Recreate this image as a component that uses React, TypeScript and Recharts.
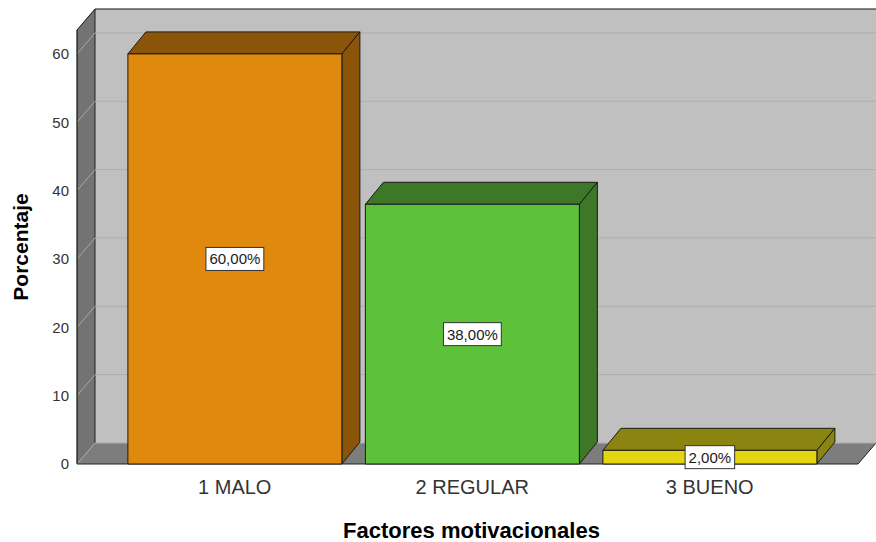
import React from 'react';
import { BarChart, Bar, XAxis, YAxis, ReferenceArea, ReferenceLine, LabelList, Label } from 'recharts';

const categories = ['1 MALO', '2 REGULAR', '3 BUENO'];
const percentages = [60, 38, 2];
const valueLabels = ['60,00%', '38,00%', '2,00%'];
const frontColors = ['#E0890F', '#5DC23A', '#E4D513'];
const darkColors = ['#8A5509', '#3C7827', '#8C8410'];
const yTicks = [0, 10, 20, 30, 40, 50, 60];

const data = categories.map((name, i) => ({ name, value: percentages[i], label: valueLabels[i], idx: i }));

const FONT = '"Liberation Sans", Arial, sans-serif';
const WALL_DX = 18;
const WALL_DY = 21;
const BAR_DX = 18;
const BAR_DY = 22;

const Walls = (p: any) => {
  const { x, y, width: w, height: h } = p;
  const D = WALL_DX, E = WALL_DY;
  return (
    <g>
      <rect x={x + D} y={y - E} width={w} height={h} fill="#C0C0C0" />
      <polygon points={`${x},${y} ${x + D},${y - E} ${x + D},${y + h - E} ${x},${y + h}`} fill="#737373" />
      <polygon points={`${x},${y + h} ${x + D},${y + h - E} ${x + w + D},${y + h - E} ${x + w},${y + h}`} fill="#7D7D7D" />
      <line x1={x + D} y1={y - E} x2={x + w + D} y2={y - E} stroke="#111" strokeWidth={1.2} />
      <line x1={x + D} y1={y - E} x2={x + D} y2={y + h - E} stroke="#222" strokeWidth={1} />
      <line x1={x} y1={y} x2={x + D} y2={y - E} stroke="#111" strokeWidth={1} />
      <line x1={x} y1={y + h} x2={x + w} y2={y + h} stroke="#222" strokeWidth={1.2} />
      <line x1={x + w} y1={y + h} x2={x + w + D} y2={y + h - E} stroke="#222" strokeWidth={1} />
    </g>
  );
};

const GridLine = (p: any) => {
  const { x1, y1, x2 } = p;
  const D = WALL_DX, E = WALL_DY;
  return (
    <g>
      <line x1={x1} y1={y1} x2={x1 + D} y2={y1 - E} stroke="#A8A8A8" strokeWidth={1} />
      <line x1={x1 + D} y1={y1 - E} x2={x2 + D} y2={y1 - E} stroke="#ADADAD" strokeWidth={1} />
    </g>
  );
};

const Bar3D = (p: any) => {
  const { x, y, width, height, index } = p;
  const D = BAR_DX, E = BAR_DY;
  const front = frontColors[index];
  const dark = darkColors[index];
  return (
    <g stroke="#1A1A1A" strokeWidth={1} strokeLinejoin="round">
      <polygon points={`${x},${y} ${x + D},${y - E} ${x + width + D},${y - E} ${x + width},${y}`} fill={dark} />
      <polygon points={`${x + width},${y} ${x + width + D},${y - E} ${x + width + D},${y + height - E} ${x + width},${y + height}`} fill={dark} />
      <rect x={x} y={y} width={width} height={height} fill={front} />
    </g>
  );
};

const charW = (c: string) => (c === ',' ? 0.278 : c === '%' ? 0.889 : 0.556);

const ValueLabel = (p: any) => {
  const { x, y, width, height, value } = p;
  const fs = 15;
  const tw = String(value).split('').reduce((s, c) => s + charW(c) * fs, 0);
  const bw = tw + 7;
  const bh = 23;
  const cx = x + width / 2;
  const cy = y + height / 2;
  return (
    <g>
      <rect x={cx - bw / 2} y={cy - bh / 2} width={bw} height={bh} fill="#FFFFFF" stroke="#333" strokeWidth={1} />
      <text x={cx} y={cy + 5.5} textAnchor="middle" fontSize={fs} fontFamily={FONT} fill="#1A1A1A">{value}</text>
    </g>
  );
};

const XTick = (p: any) => {
  const { x, y, payload } = p;
  return (
    <text x={x} y={y + 22} textAnchor="middle" fontSize={20} fontFamily={FONT} fill="#333">{payload.value}</text>
  );
};

export default function App() {
  return (
    <div style={{ position: 'absolute', left: 0, top: 0, background: '#fff' }}>
      <BarChart
        width={876}
        height={542}
        data={data}
        margin={{ top: 30, right: 18, bottom: 0, left: 0 }}
        barCategoryGap="5%"
        style={{ fontFamily: FONT }}
      >
        <XAxis xAxisId="wall" type="number" domain={[0, 1]} hide />
        <ReferenceArea xAxisId="wall" y1={0} y2={63.5} ifOverflow="visible" shape={Walls} zIndex={-300} />
        {yTicks.map((t) => (
          <ReferenceLine key={t} xAxisId="wall" y={t} ifOverflow="visible" shape={GridLine} zIndex={-250} />
        ))}
        <XAxis
          dataKey="name"
          height={78}
          padding={{ left: 39, right: 29.5 }}
          axisLine={false}
          tickLine={false}
          tick={<XTick />}
        >
          <Label
            content={(lp: any) => {
              const vb = lp.viewBox || {};
              return (
                <text x={vb.x + vb.width / 2 + 4} y={538} textAnchor="middle" fontSize={22} fontWeight="bold" fontFamily={FONT} fill="#000">
                  Factores motivacionales
                </text>
              );
            }}
          />
        </XAxis>
        <YAxis
          width={77}
          domain={[0, 63.5]}
          ticks={yTicks}
          axisLine={{ stroke: '#111', strokeWidth: 1.2 }}
          tickLine={false}
          tick={{ fontSize: 15, fill: '#333', fontFamily: FONT }}
        >
          <Label
            content={(lp: any) => {
              const vb = lp.viewBox || {};
              const cy = vb.y + vb.height / 2;
              return (
                <text x={28} y={cy} transform={`rotate(-90, 28, ${cy})`} textAnchor="middle" fontSize={21} fontWeight="bold" fontFamily={FONT} fill="#000">
                  Porcentaje
                </text>
              );
            }}
          />
        </YAxis>
        <Bar dataKey="value" isAnimationActive={false} shape={<Bar3D />}>
          <LabelList dataKey="label" content={<ValueLabel />} />
        </Bar>
      </BarChart>
    </div>
  );
}
